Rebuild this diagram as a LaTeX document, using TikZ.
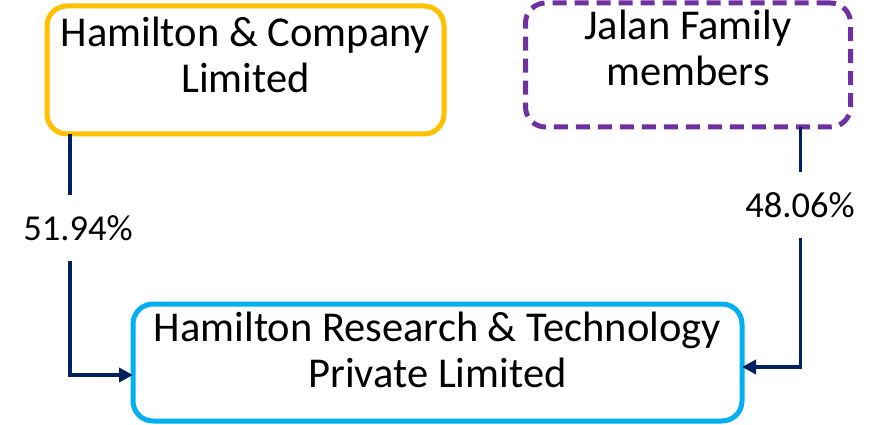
\documentclass[tikz,border=0pt]{standalone}
\usepackage{fontspec}
\setmainfont{Carlito}
\usetikzlibrary{arrows.meta}
\definecolor{cOrange}{HTML}{FFC000}
\definecolor{cPurple}{HTML}{7030A0}
\definecolor{cBlue}{HTML}{00B0F0}
\definecolor{cNavy}{HTML}{002060}
\tikzset{
  boxshape/.style={rectangle, rounded corners=20pt, line width=5pt, outer sep=0pt, inner sep=0pt, fill=white},
  boxtext/.style={anchor=base, align=center, inner sep=0pt, font=\fontsize{42.5}{46}\selectfont},
  conn/.style={draw=cNavy, line width=3.5pt, -{Triangle[length=14pt,width=14pt]}},
  pct/.style={fill=white, inner sep=0pt, minimum height=65pt, font=\fontsize{36.5}{42}\selectfont}
}
\begin{document}
\begin{tikzpicture}[x=1pt,y=-1pt]
\useasboundingbox (0,0) rectangle (884,425);
% boxes
\node[boxshape, draw=cOrange, minimum width=397pt, minimum height=128pt] (hc) at (245.5,70) {};
\node[boxshape, draw=cPurple, dash pattern=on 14pt off 8pt, minimum width=325pt, minimum height=124pt] (jf) at (688,65) {};
\node[boxshape, draw=cBlue, minimum width=609pt, minimum height=117pt] (hr) at (437.5,362.5) {};
% texts (anchor base = baseline of last line)
\node[boxtext] (hct) at (245.5,93) {Hamilton \& Company\\Limited};
\node[boxtext] (jft) at (688,86) {Jalan Family\\members};
\node[boxtext] (hrt) at (437.5,387) {Hamilton Research \& Technology\\Private Limited};
% connectors
\coordinate (bl) at (70,375);
\coordinate (br) at (800.5,367);
\draw[conn] (bl |- hc.south) -- (bl) -- (bl -| hr.west);
\draw[conn] (br |- jf.south) -- (br) -- (br -| hr.east);
% labels
\node[pct] (l1) at (78,228) {51.94\%};
\node[pct] (l2) at (800,205) {48.06\%};
\end{tikzpicture}
\end{document}
